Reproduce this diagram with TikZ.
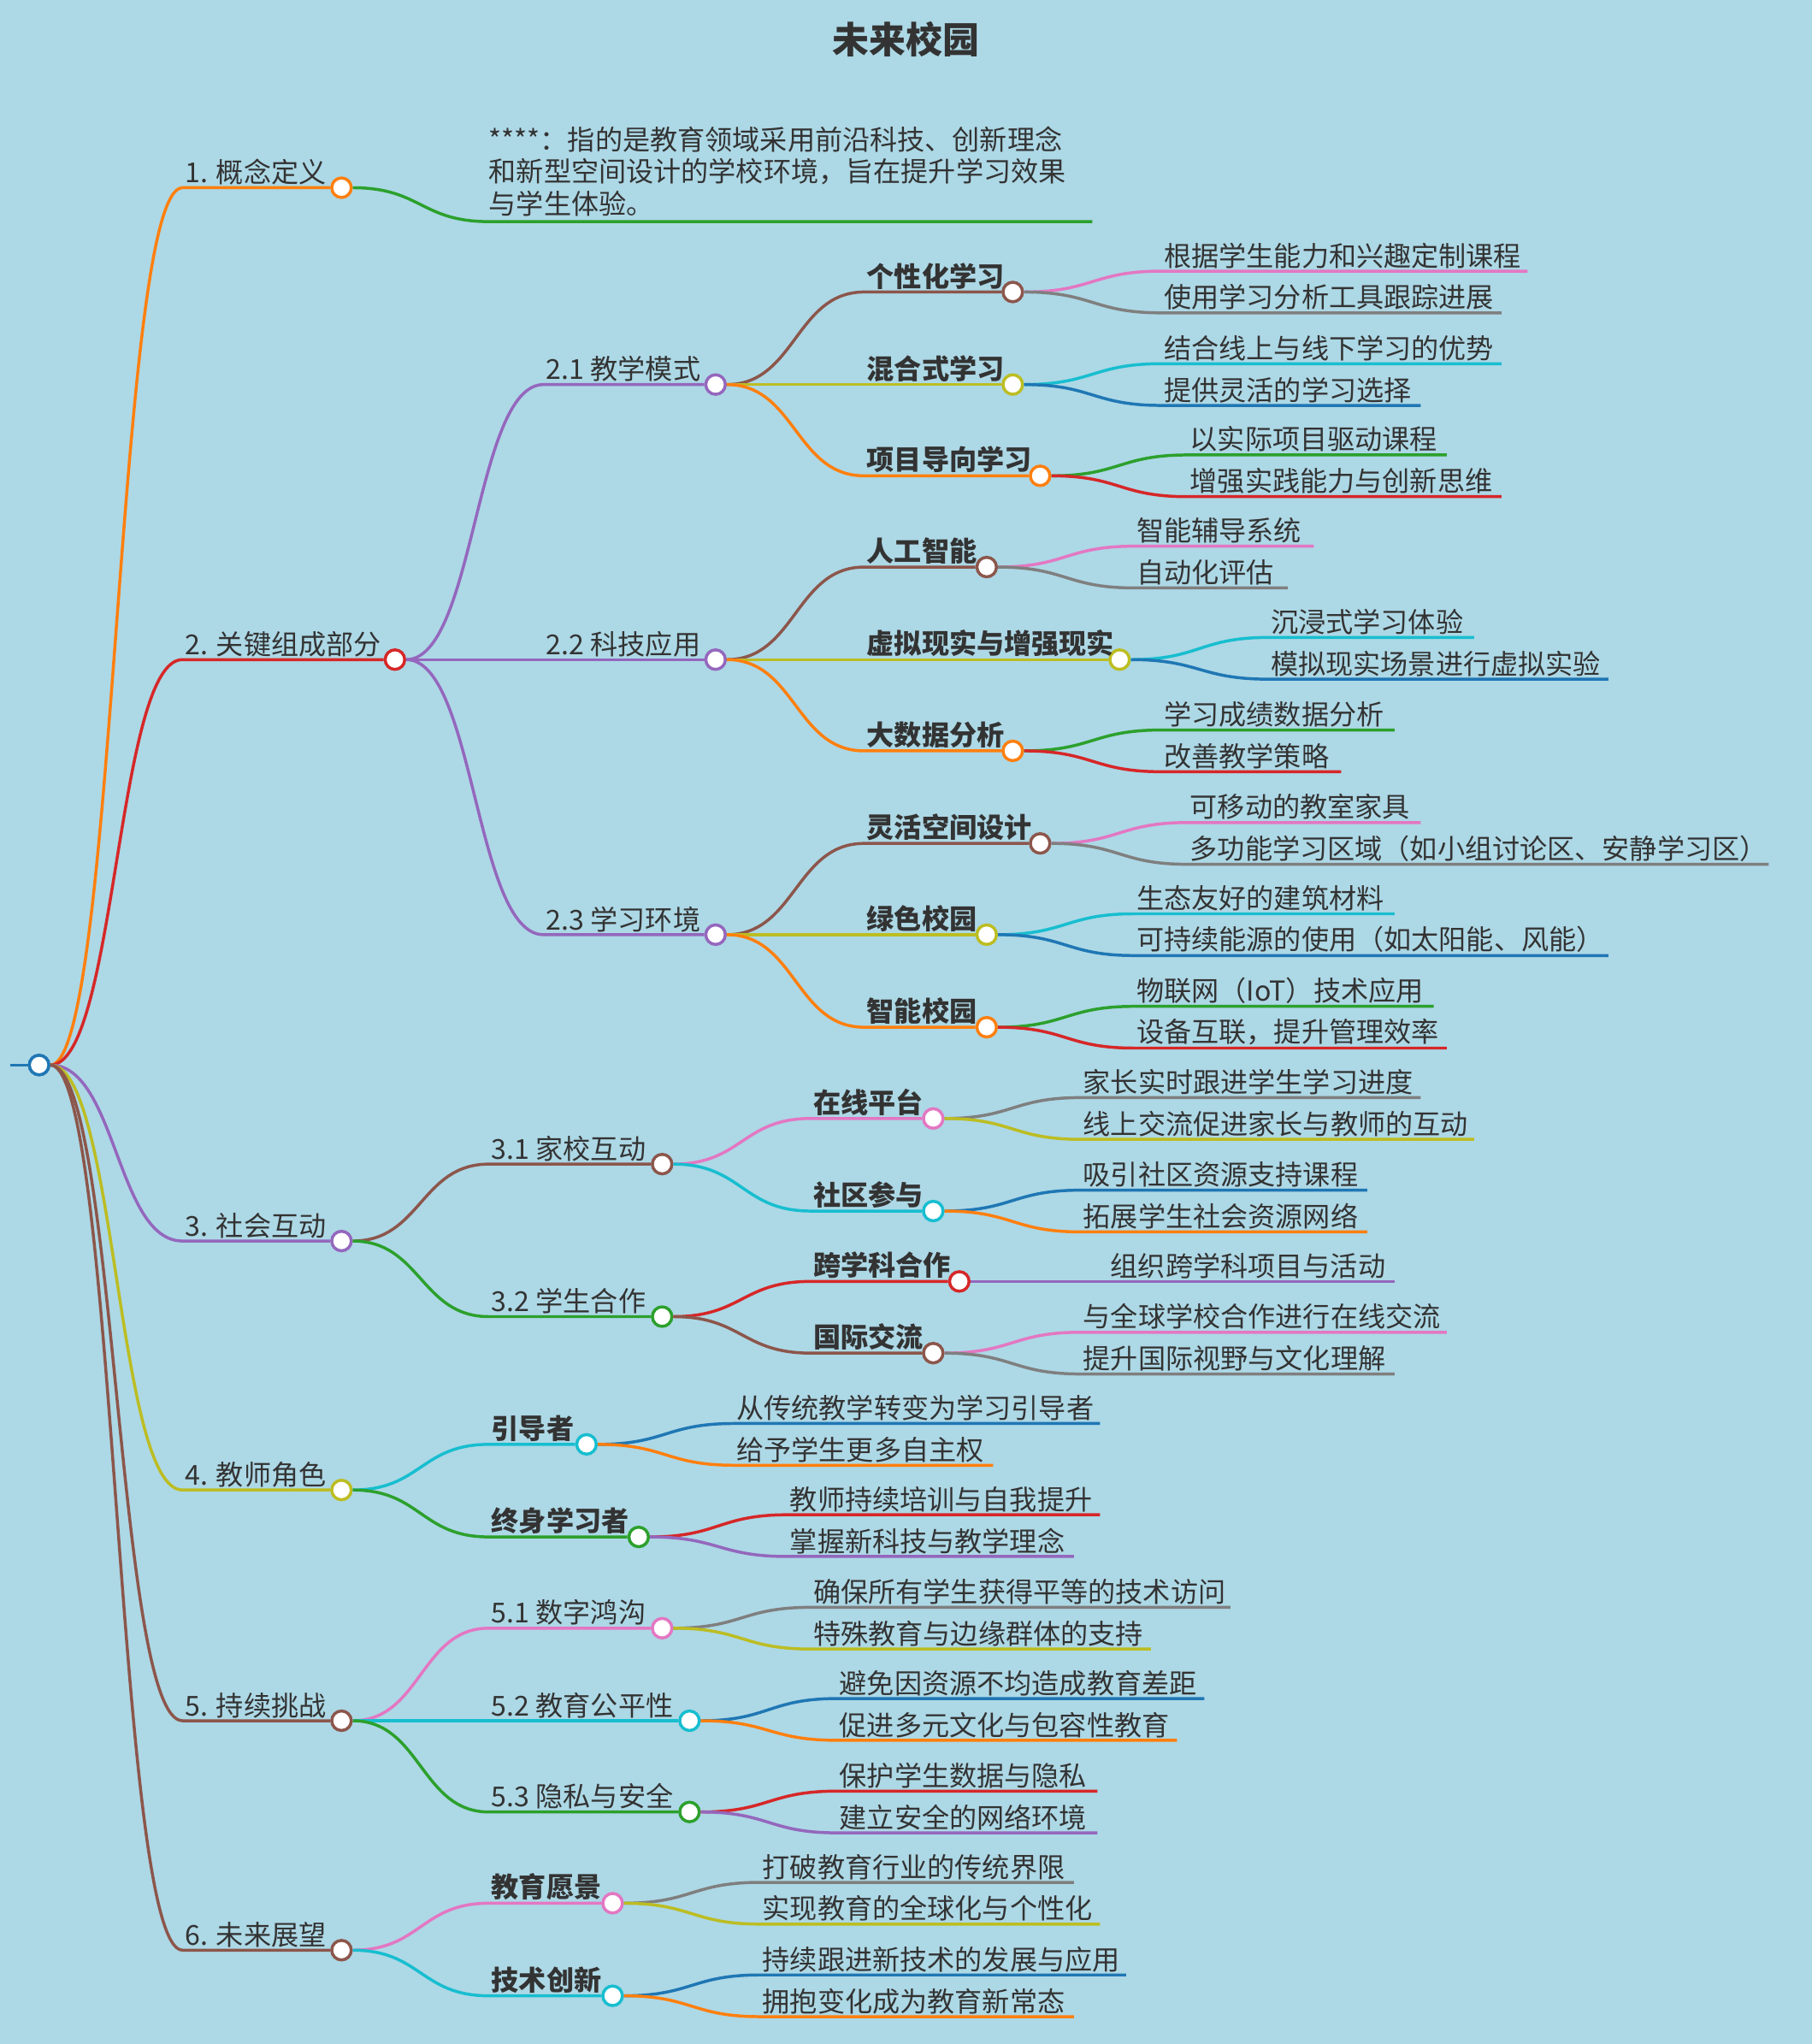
\documentclass[tikz,border=0pt]{standalone}
\usepackage{fontspec}
\setmainfont{Noto Sans CJK SC}
\usetikzlibrary{positioning,calc}
\definecolor{bg}{HTML}{ADD8E6}
\definecolor{txt}{HTML}{333333}
\definecolor{cOr}{HTML}{FF7F0E}
\definecolor{cRe}{HTML}{D62728}
\definecolor{cPu}{HTML}{9467BD}
\definecolor{cOl}{HTML}{BCBD22}
\definecolor{cBr}{HTML}{8C564B}
\definecolor{cPi}{HTML}{E377C2}
\definecolor{cGr}{HTML}{7F7F7F}
\definecolor{cCy}{HTML}{17BECF}
\definecolor{cBl}{HTML}{1F77B4}
\definecolor{cGn}{HTML}{2CA02C}
\tikzset{
  knob/.style={circle, draw=#1, fill=white, line width=1.3pt, minimum size=0.3cm, inner sep=0pt},
  lbl/.style={anchor=south west, inner sep=1pt, text=txt, font=\fontsize{12}{14}\selectfont},
  wire/.style={#1, line width=1.3pt}
}
% s-curve from (#1) to (#2), horizontal at both ends
\newcommand{\scurve}[2]{(#1) .. controls ($(#1)!0.5!(#2 |- #1)$) and ($(#2)!0.5!(#1 |- #2)$) .. (#2)}
% inner branch: parent, name, x start, x knob, y, colour, label
\newcommand{\knot}[7]{%
  \coordinate (#2s) at (#3,#5);
  \node[knob=#6] (#2) at (#4,#5) {};
  \node[lbl] (#2t) at (#2s) {#7};
  \draw[wire=#6] \scurve{#1.east}{#2s} -- (#2.west);
}
% leaf: parent, x start, x end, y, colour, label
\newcommand{\leaf}[6]{%
  \coordinate (lf) at (#2,#4);
  \draw[wire=#5] \scurve{#1.east}{lf} -- (#3,#4);
  \node[lbl] at (lf) {#6};
}
\begin{document}
\begin{tikzpicture}[x=0.02cm, y=-0.02cm]
  \fill[bg] (0,0) rectangle (1390,1568);
  \useasboundingbox (0,0) rectangle (1390,1568);
  \node[text=txt, font=\fontsize{16}{18}\selectfont\bfseries] (title) at (695,30) {未来校园};

  \node[knob=cBl] (root) at (30,817) {};
  \coordinate (rin) at (8,817);
  \draw[wire=cBl] (rin) -- (root.west);

  % 1
  \knot{root}{a}{140}{262}{144}{cOr}{1. 概念定义}
  \coordinate (as) at (375,170);
  \draw[wire=cGn] \scurve{a.east}{as} -- (838,170);
  \node[lbl, align=left] (def) at (373,168) {****：指的是教育领域采用前沿科技、创新理念\\和新型空间设计的学校环境，旨在提升学习效果\\与学生体验。};

  % 2
  \knot{root}{b}{140}{303}{506}{cRe}{2. 关键组成部分}
  \knot{b}{ba}{417}{549}{295}{cPu}{2.1 教学模式}
  \knot{b}{bb}{417}{549}{506}{cPu}{2.2 科技应用}
  \knot{b}{bc}{417}{549}{717}{cPu}{2.3 学习环境}

  \knot{ba}{baa}{663}{777}{224}{cBr}{\bfseries 个性化学习}
  \knot{ba}{bab}{663}{777}{295}{cOl}{\bfseries 混合式学习}
  \knot{ba}{bac}{663}{798}{365}{cOr}{\bfseries 项目导向学习}
  \leaf{baa}{891}{1172}{208}{cPi}{根据学生能力和兴趣定制课程}
  \leaf{baa}{891}{1152}{240}{cGr}{使用学习分析工具跟踪进展}
  \leaf{bab}{891}{1152}{279}{cCy}{结合线上与线下学习的优势}
  \leaf{bab}{891}{1090}{311}{cBl}{提供灵活的学习选择}
  \leaf{bac}{911}{1110}{349}{cGn}{以实际项目驱动课程}
  \leaf{bac}{911}{1152}{381}{cRe}{增强实践能力与创新思维}

  \knot{bb}{bba}{663}{757}{435}{cBr}{\bfseries 人工智能}
  \knot{bb}{bbb}{663}{859}{506}{cOl}{\bfseries 虚拟现实与增强现实}
  \knot{bb}{bbc}{663}{777}{576}{cOr}{\bfseries 大数据分析}
  \leaf{bba}{870}{1008}{419}{cPi}{智能辅导系统}
  \leaf{bba}{870}{988}{451}{cGr}{自动化评估}
  \leaf{bbb}{973}{1131}{489}{cCy}{沉浸式学习体验}
  \leaf{bbb}{973}{1234}{521}{cBl}{模拟现实场景进行虚拟实验}
  \leaf{bbc}{891}{1070}{560}{cGn}{学习成绩数据分析}
  \leaf{bbc}{891}{1029}{592}{cRe}{改善教学策略}

  \knot{bc}{bca}{663}{798}{647}{cBr}{\bfseries 灵活空间设计}
  \knot{bc}{bcb}{663}{757}{717}{cOl}{\bfseries 绿色校园}
  \knot{bc}{bcc}{663}{757}{788}{cOr}{\bfseries 智能校园}
  \leaf{bca}{911}{1090}{631}{cPi}{可移动的教室家具}
  \leaf{bca}{911}{1357}{663}{cGr}{多功能学习区域（如小组讨论区、安静学习区）}
  \leaf{bcb}{870}{1070}{701}{cCy}{生态友好的建筑材料}
  \leaf{bcb}{870}{1234}{733}{cBl}{可持续能源的使用（如太阳能、风能）}
  \leaf{bcc}{870}{1100}{772}{cGn}{物联网（IoT）技术应用}
  \leaf{bcc}{870}{1110}{804}{cRe}{设备互联，提升管理效率}

  % 3
  \knot{root}{c}{140}{262}{952}{cPu}{3. 社会互动}
  \knot{c}{ca}{375}{508}{893}{cBr}{3.1 家校互动}
  \knot{c}{cb}{375}{508}{1010}{cGn}{3.2 学生合作}
  \knot{ca}{caa}{622}{716}{858}{cPi}{\bfseries 在线平台}
  \knot{ca}{cab}{622}{716}{929}{cCy}{\bfseries 社区参与}
  \leaf{caa}{829}{1090}{842}{cGr}{家长实时跟进学生学习进度}
  \leaf{caa}{829}{1131}{874}{cOl}{线上交流促进家长与教师的互动}
  \leaf{cab}{829}{1049}{913}{cBl}{吸引社区资源支持课程}
  \leaf{cab}{829}{1049}{945}{cOr}{拓展学生社会资源网络}
  \knot{cb}{cba}{622}{736}{983}{cRe}{\bfseries 跨学科合作}
  \knot{cb}{cbb}{622}{716}{1038}{cBr}{\bfseries 国际交流}
  \leaf{cba}{850}{1070}{983}{cPu}{组织跨学科项目与活动}
  \leaf{cbb}{829}{1110}{1022}{cPi}{与全球学校合作进行在线交流}
  \leaf{cbb}{829}{1070}{1054}{cGr}{提升国际视野与文化理解}

  % 4
  \knot{root}{d}{140}{262}{1143}{cOl}{4. 教师角色}
  \knot{d}{da}{375}{450}{1108}{cCy}{\bfseries 引导者}
  \knot{d}{db}{375}{490}{1179}{cGn}{\bfseries 终身学习者}
  \leaf{da}{563}{844}{1092}{cBl}{从传统教学转变为学习引导者}
  \leaf{da}{563}{762}{1124}{cOr}{给予学生更多自主权}
  \leaf{db}{604}{844}{1162}{cRe}{教师持续培训与自我提升}
  \leaf{db}{604}{824}{1194}{cPu}{掌握新科技与教学理念}

  % 5
  \knot{root}{e}{140}{262}{1320}{cBr}{5. 持续挑战}
  \knot{e}{ea}{375}{508}{1249}{cPi}{5.1 数字鸿沟}
  \knot{e}{eb}{375}{529}{1320}{cCy}{5.2 教育公平性}
  \knot{e}{ec}{375}{529}{1390}{cGn}{5.3 隐私与安全}
  \leaf{ea}{622}{944}{1233}{cGr}{确保所有学生获得平等的技术访问}
  \leaf{ea}{622}{883}{1265}{cOl}{特殊教育与边缘群体的支持}
  \leaf{eb}{642}{924}{1303}{cBl}{避免因资源不均造成教育差距}
  \leaf{eb}{642}{903}{1335}{cOr}{促进多元文化与包容性教育}
  \leaf{ec}{642}{842}{1374}{cRe}{保护学生数据与隐私}
  \leaf{ec}{642}{842}{1406}{cPu}{建立安全的网络环境}

  % 6
  \knot{root}{f}{140}{262}{1496}{cBr}{6. 未来展望}
  \knot{f}{fa}{375}{470}{1460}{cPi}{\bfseries 教育愿景}
  \knot{f}{fb}{375}{470}{1531}{cCy}{\bfseries 技术创新}
  \leaf{fa}{583}{824}{1444}{cGr}{打破教育行业的传统界限}
  \leaf{fa}{583}{844}{1476}{cOl}{实现教育的全球化与个性化}
  \leaf{fb}{583}{864}{1515}{cBl}{持续跟进新技术的发展与应用}
  \leaf{fb}{583}{824}{1547}{cOr}{拥抱变化成为教育新常态}

  \node[knob=cBl] (rootc) at (root) {};
\end{tikzpicture}
\end{document}
